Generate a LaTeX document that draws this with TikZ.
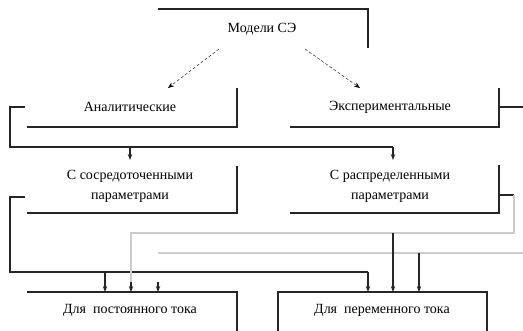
\documentclass[tikz,border=0pt]{standalone}
\usepackage{fontspec}
\setmainfont{Liberation Serif}
\usetikzlibrary{arrows.meta,calc,positioning}

\tikzset{
  frame/.style={line width=1.2pt,black!85},
  link/.style={line width=1.2pt,black!85,->},
  faint/.style={line width=1.2pt,black!20},
  lbl/.style={font=\fontsize{14}{20}\selectfont,align=center,inner sep=0pt}
}

\begin{document}
\begin{tikzpicture}[x=1pt,y=-1pt,>={Stealth[length=6pt,width=4.5pt]}]
  \useasboundingbox (0,0) rectangle (523,331);
  % text of the blocks
  \node[lbl] (models) at (262,29) {Модели СЭ};
  \node[lbl] (anal) at (130,107) {Аналитические};
  \node[lbl] (exper) at (390,107) {Экспериментальные};
  \node[lbl] (lump) at (130,186) {С сосредоточенными\\параметрами};
  \node[lbl] (distr) at (390,186) {С распределенными\\параметрами};
  \node[lbl] (dc) at (130,310) {Для \ постоянного тока};
  \node[lbl] (ac) at (382,310) {Для \ переменного тока};
  % frames
  \draw[frame] (158,9) -- (368,9) -- (368,48);
  \draw[frame] (27,127) -- (237,127) -- (237,88);
  \draw[frame] (290,127) -- (499,127) -- (499,88);
  \draw[frame] (27,213) -- (237,213) -- (237,166);
  \draw[frame] (290,213) -- (499,213) -- (499,165);
  \draw[frame] (27,292) -- (237,292) -- (237,331);
  \draw[frame] (278,331) -- (278,292) -- (487,292) -- (487,331);
  % entry points
  \coordinate (anal in) at (168,88);
  \coordinate (exper in) at (360,88);
  \coordinate (lump in) at (130,160);
  \coordinate (distr in) at (393,160);
  \coordinate (dc in1) at (105,292);
  \coordinate (dc in2) at (131,292);
  \coordinate (dc in3) at (158,292);
  \coordinate (ac in1) at (368,292);
  \coordinate (ac in2) at (393,292);
  \coordinate (ac in3) at (419,292);
  % connections
  \draw[->,thin,densely dashed] (219,49) -- (anal in);
  \draw[->,thin,densely dashed] (305,49) -- (exper in);
  \draw[frame] (25,107) -- (10,107) -- (10,147) -- (393,147);
  \draw[link] (lump in |- 0,147) -- (lump in);
  \draw[link] (393,147) -- (distr in);
  \draw[frame] (499,107) -- (523,107);
  \draw[frame] (25,197) -- (10,197) -- (10,272) -- (368,272);
  \draw[link] (dc in1 |- 0,272) -- (dc in1);
  \draw[link] (368,272) -- (ac in1);
  \draw[frame] (499,195) -- (514,195);
  \draw[faint] (514,195) -- (514,233) -- (131,233) -- (131,284);
  \draw[link] (131,282) -- (dc in2);
  \draw[faint] (158,253) -- (523,253);
  \draw[link] (158,282) -- (dc in3);
  \draw[link] (ac in2 |- 0,233) -- (ac in2);
  \draw[link] (ac in3 |- 0,253) -- (ac in3);
\end{tikzpicture}
\end{document}
